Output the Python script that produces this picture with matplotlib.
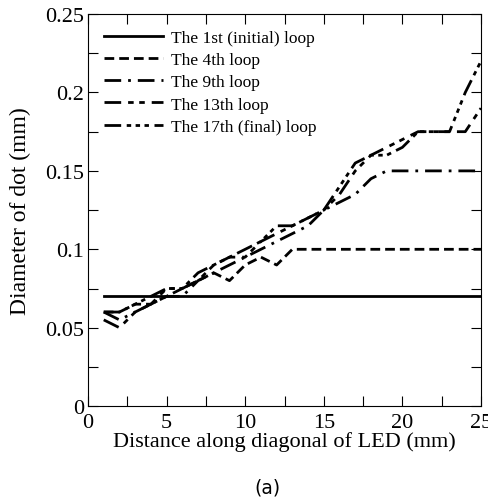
import matplotlib
matplotlib.use("Agg")
import matplotlib.pyplot as plt
from matplotlib.ticker import MultipleLocator

# data
distance = list(range(1, 26))
loop1 = [0.07] * 25
loop4 = [0.06, 0.06, 0.065, 0.065, 0.07, 0.075, 0.08, 0.085, 0.08, 0.09,
         0.095, 0.09, 0.1, 0.1, 0.1, 0.1, 0.1, 0.1, 0.1, 0.1,
         0.1, 0.1, 0.1, 0.1, 0.1]
loop9 = [0.06, 0.055, 0.06, 0.065, 0.07, 0.07, 0.08, 0.085, 0.09, 0.095,
         0.1, 0.105, 0.11, 0.115, 0.125, 0.13, 0.135, 0.145, 0.15, 0.15,
         0.15, 0.15, 0.15, 0.15, 0.15]
loop13 = [0.055, 0.05, 0.06, 0.065, 0.075, 0.075, 0.08, 0.09, 0.095, 0.095,
          0.105, 0.11, 0.115, 0.12, 0.125, 0.135, 0.15, 0.16, 0.165, 0.17,
          0.175, 0.175, 0.175, 0.175, 0.19]
loop17 = [0.06, 0.06, 0.065, 0.07, 0.075, 0.075, 0.085, 0.09, 0.095, 0.1,
          0.105, 0.115, 0.115, 0.12, 0.125, 0.14, 0.155, 0.16, 0.16, 0.165,
          0.175, 0.175, 0.175, 0.2, 0.22]

labels = ["The 1st (initial) loop", "The 4th loop", "The 9th loop",
          "The 13th loop", "The 17th (final) loop"]
series = [loop1, loop4, loop9, loop13, loop17]
dashes = [None, (3.5, 1.8), (6, 2.5, 1, 2.5), (6, 2.5, 2, 2, 2, 2.5),
          (6, 2, 1.6, 1.6, 1.6, 1.6, 1.6, 2)]

plt.rcParams["font.family"] = ["Liberation Serif", "DejaVu Serif"]

fig = plt.figure(figsize=(4.89, 5.02), dpi=100)
ax = fig.add_axes([0.18, 0.189, 0.8036, 0.781])

for ys, lab, d in zip(series, labels, dashes):
    line, = ax.plot(distance, ys, color="black", lw=2.0, label=lab)
    if d is not None:
        line.set_dashes(d)

ax.set_xlim(0, 25)
ax.set_ylim(0, 0.25)
ax.xaxis.set_major_locator(MultipleLocator(5))
ax.xaxis.set_minor_locator(MultipleLocator(2.5))
ax.yaxis.set_minor_locator(MultipleLocator(0.025))
ax.set_yticks([0, 0.05, 0.1, 0.15, 0.2, 0.25])
ax.set_yticklabels(["0", "0.05", "0.1", "0.15", "0.2", "0.25"])
ax.tick_params(which="both", direction="in", top=True, right=True,
               labelsize=16)
ax.tick_params(axis="x", pad=5)
ax.tick_params(axis="y", pad=3)
ax.tick_params(which="both", length=7, width=0.8)
for s in ax.spines.values():
    s.set_linewidth(0.8)

ax.set_xlabel("Distance along diagonal of LED (mm)", fontsize=16, labelpad=-1)
ax.set_ylabel("Diameter of dot (mm)", fontsize=17, labelpad=10)

ax.legend(loc="upper left", frameon=False, fontsize=12.5, handlelength=3.4,
          handletextpad=0.5, labelspacing=0.35, borderaxespad=0.5,
          bbox_to_anchor=(0.0, 1.0))

fig.text(0.547, 0.028, "(a)", family="DejaVu Sans", fontsize=13.5,
         ha="center", va="center")

fig.savefig("out.png", dpi=100)
